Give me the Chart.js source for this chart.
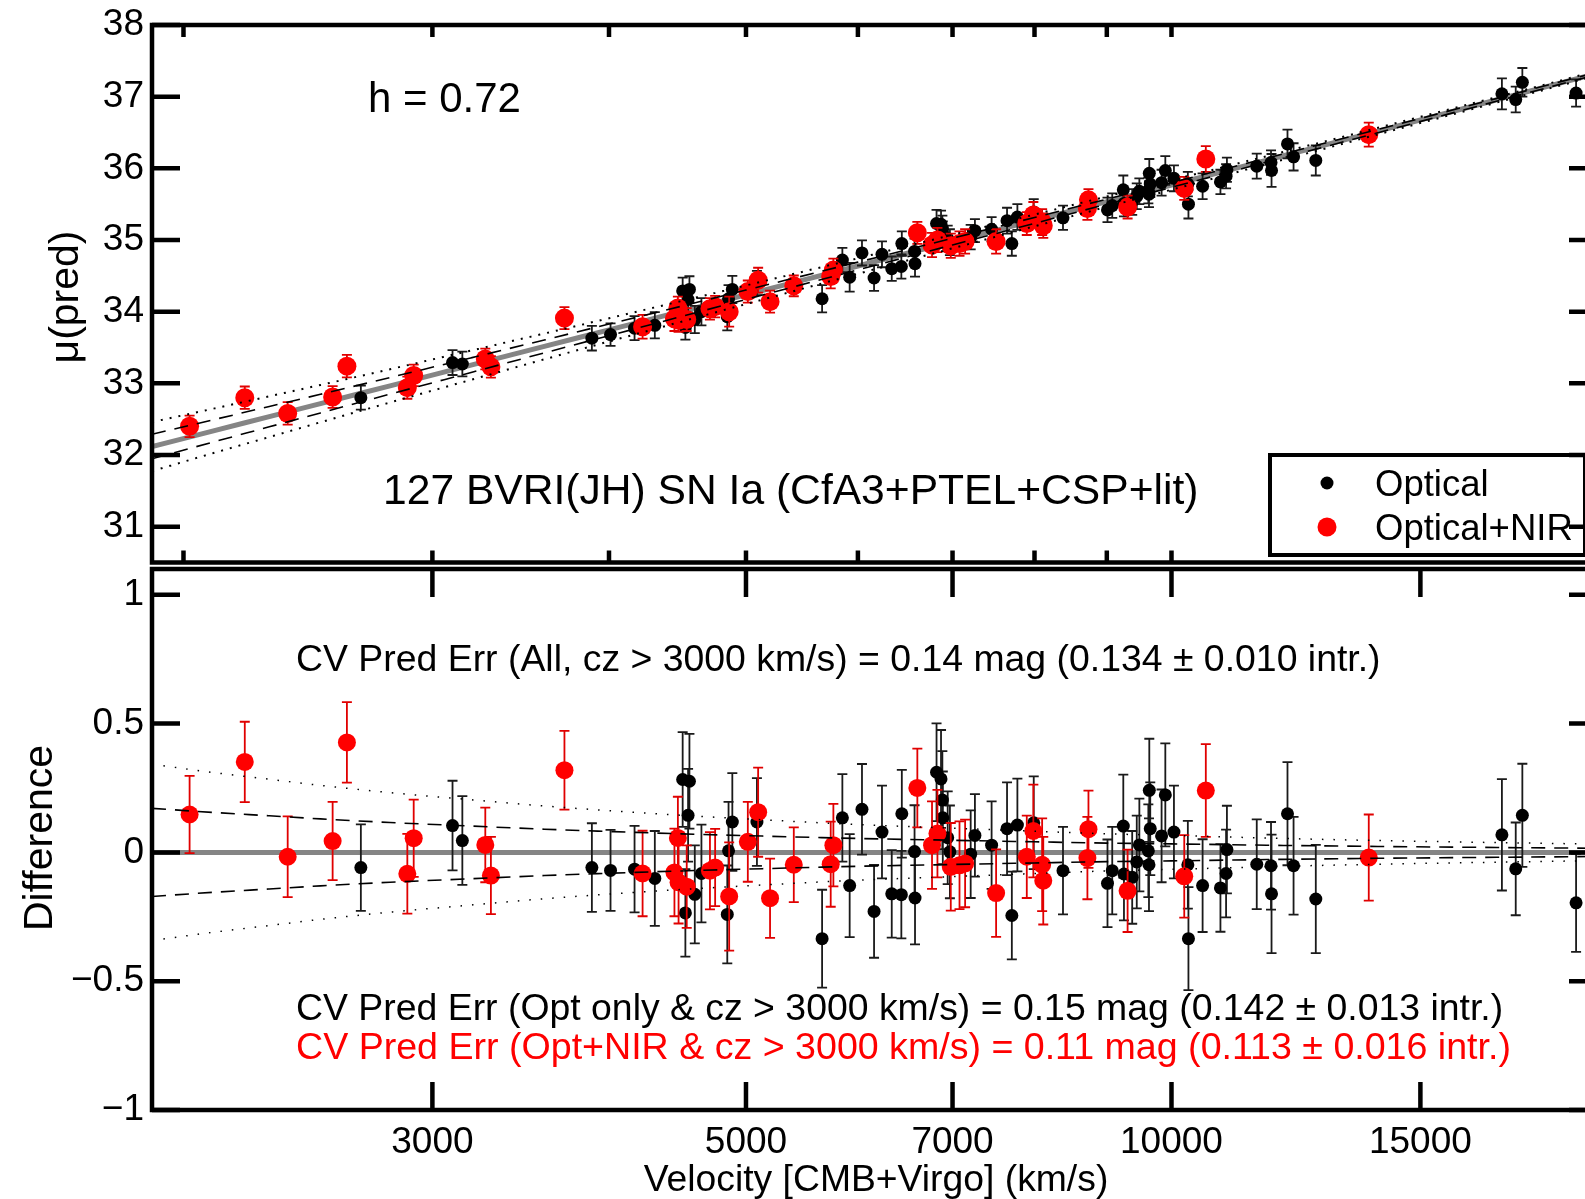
<!DOCTYPE html>
<html>
<head>
<meta charset="utf-8">
<script src="https://cdn.jsdelivr.net/npm/chart.js@4.4.1/dist/chart.umd.min.js"></script>
<style>
  html, body { margin: 0; padding: 0; background: #fff; overflow: hidden; }
  #wrap { position: relative; width: 1585px; height: 1199px; overflow: hidden; background: #fff; }
  canvas { position: absolute; left: 0; }
  #top { top: 0; }
  #bottom { top: 560px; }
</style>
</head>
<body>
<div id="wrap">
  <canvas id="top" width="1620" height="572"></canvas>
  <canvas id="bottom" width="1620" height="639"></canvas>
</div>
<script>
// Optical only SNe (black)
const optVel = [2670, 3100, 3150, 3890, 4010, 4170, 4310, 4510, 4530, 4550, 4560, 4600, 4650, 4850, 4860, 4890,
  5090, 5660, 5850, 5920, 6040, 6160, 6240, 6340, 6440, 6445, 6580, 6585, 6820, 6870, 6885, 6890, 6945, 6970,
  7210, 7260, 7460, 7650, 7710, 7780, 7990, 8380, 9010, 9080, 9245, 9255, 9380, 9450, 9490, 9630, 9640, 9645,
  9660, 9840, 9900, 10040, 10270, 10280, 10520, 10830, 10930, 10945, 11490, 11760, 11770, 12080, 12200, 12650,
  17130, 17520, 17710, 19330];
const optDiff = [-0.059, 0.104, 0.046, -0.059, -0.070, -0.065, -0.101, 0.283, -0.235, 0.144, 0.276, -0.163, -0.082, -0.241, 0.006, 0.118,
  0.118, -0.335, 0.134, -0.129, 0.167, -0.229, 0.079, -0.161, -0.164, 0.150, 0.003, -0.177, 0.311, 0.285, 0.203, 0.134, 0.057, 0.002,
  -0.007, 0.066, 0.028, 0.092, -0.245, 0.106, 0.115, -0.071, -0.120, -0.071, 0.102, -0.084, -0.097, -0.037, 0.029, 0.006, -0.048, 0.241,
  0.092, 0.064, 0.223, 0.079, -0.048, -0.335, -0.129, -0.138, -0.082, 0.011, -0.046, -0.052, -0.161, 0.150, -0.052, -0.181,
  0.068, -0.064, 0.144, -0.196];
const optErr = [0.168, 0.174, 0.172, 0.172, 0.157, 0.168, 0.184, 0.184, 0.170, 0.180, 0.184, 0.190, 0.190, 0.190, 0.190, 0.190,
  0.170, 0.190, 0.170, 0.200, 0.176, 0.180, 0.180, 0.170, 0.170, 0.170, 0.180, 0.180, 0.190, 0.190, 0.190, 0.180, 0.180, 0.180,
  0.170, 0.160, 0.170, 0.180, 0.170, 0.180, 0.180, 0.170, 0.170, 0.170, 0.200, 0.180, 0.180, 0.180, 0.180, 0.180, 0.180, 0.200,
  0.180, 0.180, 0.200, 0.180, 0.170, 0.200, 0.180, 0.170, 0.170, 0.170, 0.174, 0.170, 0.230, 0.200, 0.190, 0.210,
  0.216, 0.180, 0.200, 0.190];
const optMu = [32.80, 33.29, 33.27, 33.63, 33.68, 33.77, 33.81, 34.29, 33.78, 34.17, 34.31, 33.89, 34.00, 33.93, 34.18, 34.31,
  34.40, 34.18, 34.72, 34.48, 34.82, 34.47, 34.80, 34.60, 34.63, 34.95, 34.84, 34.67, 35.23, 35.22, 35.15, 35.08, 35.02, 34.97,
  35.04, 35.13, 35.15, 35.27, 34.95, 35.32, 35.39, 35.31, 35.42, 35.48, 35.70, 35.51, 35.53, 35.61, 35.68, 35.69, 35.64, 35.93,
  35.78, 35.80, 35.97, 35.86, 35.78, 35.50, 35.75, 35.81, 35.89, 35.98, 36.03, 36.08, 35.97, 36.34, 36.16, 36.11,
  37.04, 36.96, 37.20, 37.05];

// Optical+NIR SNe (red)
const nirVel = [2020, 2210, 2370, 2550, 2610, 2880, 2910, 3270, 3300, 3720, 4225, 4450, 4475, 4480, 4540, 4715, 4755, 4865,
  5015, 5100, 5200, 5405, 5740, 5765, 6610, 6770, 6830, 6980, 7080, 7145, 7515, 7900, 7985, 8100, 8115, 8720, 8735,
  9310, 10210, 10575, 13790];
const nirDiff = [0.147, 0.351, -0.017, 0.044, 0.427, -0.083, 0.055, 0.029, -0.090, 0.319, -0.082, -0.078, 0.056, -0.116, -0.133, -0.071, -0.059, -0.171,
  0.041, 0.156, -0.178, -0.048, -0.046, 0.028, 0.250, 0.028, 0.073, -0.056, -0.050, -0.043, -0.158, -0.017, 0.083, -0.048, -0.110, -0.022, 0.090,
  -0.149, -0.093, 0.240, -0.020];
const nirErr = [0.150, 0.156, 0.157, 0.152, 0.156, 0.155, 0.150, 0.145, 0.150, 0.153, 0.166, 0.170, 0.160, 0.160, 0.160, 0.150, 0.150, 0.210,
  0.155, 0.173, 0.154, 0.145, 0.165, 0.160, 0.153, 0.170, 0.170, 0.170, 0.170, 0.170, 0.170, 0.160, 0.180, 0.180, 0.170, 0.160, 0.150,
  0.160, 0.160, 0.180, 0.167];
const nirMu = [32.40, 32.80, 32.58, 32.81, 33.24, 32.94, 33.11, 33.34, 33.23, 33.91, 33.79, 33.90, 34.05, 33.88, 33.89, 34.04, 34.07, 34.00,
  34.28, 34.44, 34.14, 34.36, 34.49, 34.58, 35.10, 34.93, 35.00, 34.92, 34.95, 34.98, 34.98, 35.23, 35.35, 35.25, 35.20, 35.44, 35.56,
  35.46, 35.72, 36.13, 36.47];

// Hubble line (h = 0.72) and peculiar-velocity bands (150 and 300 km/s)
const modelVel = [1900, 2100, 2300, 2500, 2800, 3200, 3600, 4000, 4500, 5000, 6000, 7000, 8000, 9000, 10000, 12000, 14000, 17000, 20000];
const modelMu = [32.118, 32.337, 32.535, 32.717, 32.965, 33.257, 33.515, 33.746, 34.004, 34.236, 34.637, 34.978, 35.273, 35.535, 35.768,
  36.175, 36.520, 36.958, 37.326];
const band150 = [0.171, 0.155, 0.142, 0.130, 0.116, 0.102, 0.090, 0.081, 0.072, 0.065, 0.054, 0.047, 0.041, 0.036, 0.033, 0.027, 0.023, 0.019, 0.016];
const band300 = [0.342, 0.310, 0.284, 0.260, 0.232, 0.204, 0.180, 0.162, 0.144, 0.130, 0.108, 0.094, 0.082, 0.072, 0.066, 0.054, 0.046, 0.038, 0.032];

// axes
const velRange = [1900, 20000];
const muRange = [30.5, 38];
const diffRange = [-1, 1.1];
const muTicks = [31, 32, 33, 34, 35, 36, 37, 38];
const diffTicks = [-1, -0.5, 0, 0.5, 1];
const velLabelTicks = [3000, 5000, 7000, 10000, 15000];
const velMinorTicks = [2000, 3000, 4000, 5000, 6000, 7000, 8000, 9000, 10000, 20000];

const FONT = "'Liberation Sans', Arial, sans-serif";

function pts(vel, vals) {
    return vel.map((v, i) => ({ x: v, y: vals[i] }));
}

function curve(vals, style, order) {
    return Object.assign({
        data: pts(modelVel, vals),
        showLine: true,
        pointRadius: 0,
        fill: false,
        order: order,
        cubicInterpolationMode: 'monotone'
    }, style);
}

function points(label, vel, vals, errs, color, radius, order) {
    return {
        label: label,
        data: pts(vel, vals),
        errors: errs,
        errorColor: color === '#000000' ? '#1a1a1a' : '#e00000',
        backgroundColor: color,
        borderWidth: 0,
        pointRadius: radius,
        pointStyle: 'circle',
        order: order
    };
}

const dashed = { borderColor: '#000', borderWidth: 1.6, borderDash: [14, 9] };
const grayLine = { borderColor: '#858585', borderWidth: 5 };

// error bars are drawn just before the points of their dataset
const errorBars = {
    id: 'errorBars',
    beforeDatasetDraw(chart, args) {
        const ds = chart.data.datasets[args.index];
        if (!ds.errors) return;
        const ctx = chart.ctx;
        const xs = chart.scales.x, ys = chart.scales.y;
        ctx.save();
        ctx.strokeStyle = ds.errorColor;
        ctx.lineWidth = 1.8;
        ds.data.forEach((p, i) => {
            const e = ds.errors[i];
            const px = xs.getPixelForValue(p.x);
            const y1 = ys.getPixelForValue(p.y + e);
            const y2 = ys.getPixelForValue(p.y - e);
            ctx.beginPath();
            ctx.moveTo(px, y1); ctx.lineTo(px, y2);
            ctx.moveTo(px - 5, y1); ctx.lineTo(px + 5, y1);
            ctx.moveTo(px - 5, y2); ctx.lineTo(px + 5, y2);
            ctx.stroke();
        });
        ctx.restore();
    }
};

// box round the plot with inward ticks on all four sides
function makeFrame(xTicks, xLen, yTicks, yLen) {
    return {
        id: 'frame',
        afterDraw(chart) {
            const ctx = chart.ctx, a = chart.chartArea;
            const xs = chart.scales.x, ys = chart.scales.y;
            ctx.save();
            ctx.strokeStyle = '#000';
            ctx.lineWidth = 4.5;
            ctx.beginPath();
            xTicks.forEach(v => {
                const px = xs.getPixelForValue(v);
                ctx.moveTo(px, a.top); ctx.lineTo(px, a.top + xLen);
                ctx.moveTo(px, a.bottom); ctx.lineTo(px, a.bottom - xLen);
            });
            yTicks.forEach(v => {
                const py = ys.getPixelForValue(v);
                ctx.moveTo(a.left, py); ctx.lineTo(a.left + yLen, py);
                ctx.moveTo(a.right, py); ctx.lineTo(a.right - yLen, py);
            });
            ctx.stroke();
            ctx.strokeRect(a.left, a.top, a.right - a.left, a.bottom - a.top);
            ctx.restore();
        }
    };
}

function makeNotes(items) {
    return {
        id: 'notes',
        afterDraw(chart) {
            const ctx = chart.ctx;
            items.forEach(t => {
                ctx.save();
                ctx.font = t.size + 'px ' + FONT;
                ctx.fillStyle = t.color || '#000';
                ctx.textBaseline = 'alphabetic';
                ctx.textAlign = t.align || 'left';
                ctx.translate(t.x, t.y);
                if (t.rotate) ctx.rotate(-Math.PI / 2);
                ctx.fillText(t.text, 0, 0);
                ctx.restore();
            });
        }
    };
}

const legendBox = {
    id: 'legendBox',
    afterDraw(chart) {
        const ctx = chart.ctx;
        const items = chart.data.datasets.filter(d => d.label);
        ctx.save();
        ctx.strokeStyle = '#000';
        ctx.lineWidth = 4;
        ctx.strokeRect(1270, 455, 315, 100);
        ctx.font = '36.5px ' + FONT;
        ctx.textBaseline = 'alphabetic';
        // black entry first, as in the figure
        const order = items.slice().sort((a, b) => a.label.length - b.label.length);
        order.forEach((d, i) => {
            const cy = 483 + i * 44;
            ctx.fillStyle = d.backgroundColor;
            ctx.beginPath();
            ctx.arc(1327, cy, d.pointRadius, 0, Math.PI * 2);
            ctx.fill();
            ctx.fillStyle = '#000';
            ctx.fillText(d.label, 1375, cy + 13);
        });
        ctx.restore();
    }
};

function yAxis(range, ticks) {
    return {
        type: 'linear',
        min: range[0],
        max: range[1],
        bounds: 'data',
        grid: { display: false, drawTicks: false },
        border: { display: false },
        ticks: {
            font: { family: FONT, size: 37 },
            color: '#000',
            padding: 8,
            callback: v => v < 0 ? '\u2212' + String(-v) : String(v)
        },
        afterBuildTicks: s => { s.ticks = ticks.map(v => ({ value: v })); },
        afterFit: s => { s.width = 152; s.paddingTop = 0; s.paddingBottom = 0; }
    };
}

const common = {
    responsive: false,
    animation: false,
    events: [],
    plugins: { legend: { display: false }, tooltip: { enabled: false } }
};

// upper panel: predicted distance modulus
new Chart(document.getElementById('top'), {
    type: 'scatter',
    data: {
        datasets: [
            curve(modelMu.map((m, i) => m + band150[i]), dashed, 0),
            curve(modelMu.map((m, i) => m - band150[i]), dashed, 0),
            curve(modelMu.map((m, i) => m + band300[i]), { borderColor: '#000', borderWidth: 2, borderDash: [2, 7] }, 0),
            curve(modelMu.map((m, i) => m - band300[i]), { borderColor: '#000', borderWidth: 2, borderDash: [2, 7] }, 0),
            points('Optical+NIR', nirVel, nirMu, nirErr, '#ff0000', 9.5, 1),
            points('Optical', optVel, optMu, optErr, '#000000', 6.5, 2),
            curve(modelMu, grayLine, 3)
        ]
    },
    options: Object.assign({}, common, {
        layout: { padding: { left: 0, right: 23, top: 25, bottom: 6 } },
        scales: {
            x: { type: 'logarithmic', min: velRange[0], max: velRange[1], bounds: 'data', display: false },
            y: yAxis(muRange, muTicks)
        }
    }),
    plugins: [errorBars, makeFrame(velMinorTicks, 12, muTicks, 28), legendBox, makeNotes([
        { text: 'h = 0.72', x: 368, y: 112, size: 42 },
        { text: '127 BVRI(JH) SN Ia (CfA3+PTEL+CSP+lit)', x: 383, y: 504, size: 42.6 },
        { text: '\u03bc(pred)', x: 78, y: 297, size: 41, rotate: true, align: 'center' }
    ])]
});

// lower panel: residuals
new Chart(document.getElementById('bottom'), {
    type: 'scatter',
    data: {
        datasets: [
            curve(band150, dashed, 0),
            curve(band150.map(b => -b), dashed, 0),
            curve(band300, { borderColor: '#000', borderWidth: 1.5, borderDash: [1.5, 10] }, 0),
            curve(band300.map(b => -b), { borderColor: '#000', borderWidth: 1.5, borderDash: [1.5, 10] }, 0),
            points('Optical+NIR', nirVel, nirDiff, nirErr, '#ff0000', 9, 1),
            points('Optical', optVel, optDiff, optErr, '#000000', 6.5, 2),
            curve(modelVel.map(() => 0), grayLine, 3)
        ]
    },
    options: Object.assign({}, common, {
        layout: { padding: { left: 0, right: 23, top: 7, bottom: 0 } },
        scales: {
            x: {
                type: 'logarithmic',
                min: velRange[0],
                max: velRange[1],
                bounds: 'data',
                grid: { display: false, drawTicks: false },
                border: { display: false },
                ticks: {
                    font: { family: FONT, size: 37 },
                    color: '#000',
                    padding: 11,
                    autoSkip: false,
                    maxRotation: 0,
                    callback: v => String(v)
                },
                afterBuildTicks: s => { s.ticks = velLabelTicks.map(v => ({ value: v })); },
                afterFit: s => { s.height = 89; s.paddingLeft = 0; s.paddingRight = 0; }
            },
            y: yAxis(diffRange, diffTicks)
        }
    }),
    plugins: [errorBars, makeFrame(velLabelTicks, 28, diffTicks, 28), makeNotes([
        { text: 'CV Pred Err (All, cz > 3000 km/s) = 0.14 mag (0.134 \u00b1 0.010 intr.)', x: 296, y: 111, size: 37.4 },
        { text: 'CV Pred Err (Opt only & cz > 3000 km/s) = 0.15 mag (0.142 \u00b1 0.013 intr.)', x: 296, y: 460, size: 37.4 },
        { text: 'CV Pred Err (Opt+NIR & cz > 3000 km/s) = 0.11 mag (0.113 \u00b1 0.016 intr.)', x: 296, y: 499, size: 37.6, color: '#ff0000' },
        { text: 'Difference', x: 52, y: 278, size: 41, rotate: true, align: 'center' },
        { text: 'Velocity [CMB+Virgo] (km/s)', x: 876, y: 631, size: 37.3, align: 'center' }
    ])]
});
</script>
</body>
</html>
